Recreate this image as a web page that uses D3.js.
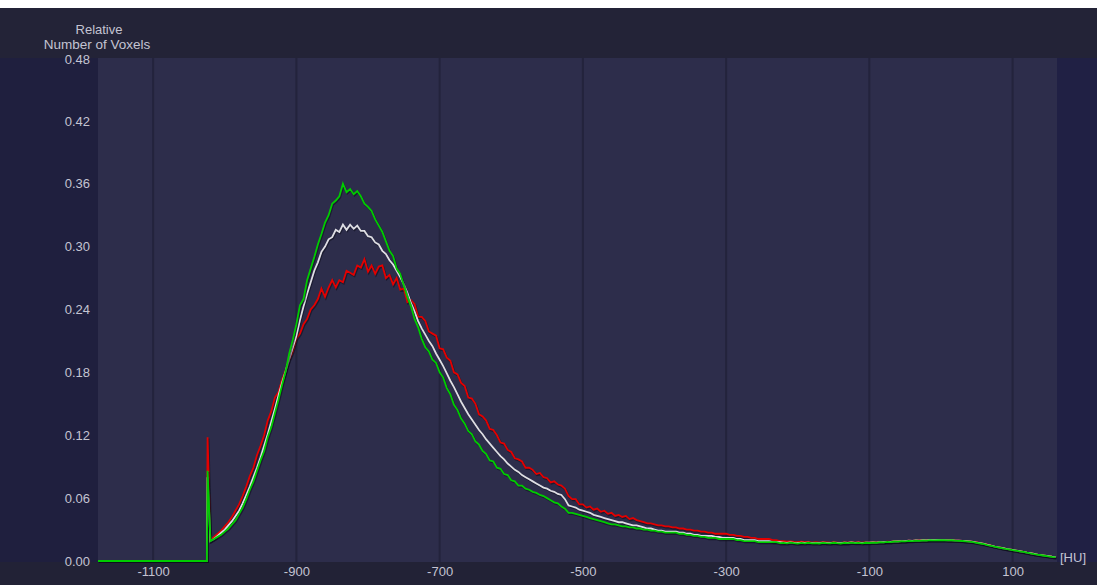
<!DOCTYPE html>
<html>
<head>
<meta charset="utf-8">
<script src="https://cdn.jsdelivr.net/npm/d3@7"></script>
<style>
  html, body { margin: 0; padding: 0; background: #ffffff; }
  svg { display: block; }
  text { font-family: "Liberation Sans", Arial, sans-serif; }
</style>
</head>
<body>
<svg id="chart" width="1097" height="585"></svg>
<script>
// Histogram bins in Hounsfield units: baseline before the air peak, the -1024 bin, then 5 HU bins
const huBins = [-1177, -1025, -1024].concat(d3.range(-1020, 161, 5));

const xTicks = [-1100, -900, -700, -500, -300, -100, 100];
const yTicks = [0, 0.06, 0.12, 0.18, 0.24, 0.30, 0.36, 0.42, 0.48];

// Relative voxel counts per bin
const redValues = [0, 0, 0.118,
  .020,.023,.026,.029,.033,.037,.042,.048,.054,.062,
  .071,.081,.089,.101,.110,.120,.134,.143,.156,.161,
  .173,.182,.192,.200,.212,.217,.226,.231,.240,.244,
  .250,.260,.252,.261,.268,.261,.268,.266,.277,.275,
  .273,.282,.280,.288,.276,.282,.274,.281,.282,.270,
  .273,.264,.270,.259,.260,.247,.249,.245,.233,.233,
  .229,.219,.217,.215,.203,.202,.194,.191,.180,.178,
  .170,.167,.156,.155,.150,.140,.138,.134,.126,.125,
  .120,.113,.112,.106,.104,.098,.097,.095,.089,.089,
  .087,.083,.084,.080,.079,.075,.076,.073,.072,.069,
  .062,.059,.059,.054,.054,.051,.052,.049,.050,.047,
  .048,.045,.046,.043,.044,.042,.043,.040,.041,.039,
  .038,.037,.036,.036,.035,.034,.034,.033,.033,.032,
  .032,.031,.031,.030,.030,.029,.029,.028,.028,.027,
  .027,.026,.026,.026,.026,.025,.025,.024,.024,.023,
  .023,.022,.022,.021,.021,.021,.021,.020,.020,.019,
  .0190,.0185,.0188,.0183,.0180,.0184,.0179,.0182,.0176,.0179,
  .0175,.0180,.0177,.0174,.0179,.0176,.0173,.0178,.0175,.0180,
  .0176,.0179,.0174,.0178,.0176,.0180,.0178,.0182,.0180,.0185,
  .0183,.0189,.0186,.0191,.0190,.0195,.0192,.0197,.0196,.0200,
  .0198,.0202,.0200,.0202,.0200,.0201,.0198,.0199,.0196,.0195,
  .0193,.0190,.0187,.0183,.0177,.0171,.0164,.0156,.0147,.0138,
  .0131,.0124,.0117,.0111,.0105,.0099,.0093,.0087,.0080,.0074,
  .0067,.0061,.0056,.0051,.0046,.0041,.0037];

const whiteValues = [0, 0, 0.080,
  .019,.021,.024,.027,.030,.034,.038,.043,.048,.055,
  .063,.071,.080,.089,.099,.110,.121,.133,.145,.158,
  .170,.181,.193,.204,.215,.230,.243,.255,.266,.277,
  .285,.295,.300,.307,.309,.316,.314,.321,.316,.321,
  .317,.320,.315,.315,.310,.309,.304,.302,.296,.293,
  .287,.283,.277,.271,.264,.256,.246,.238,.229,.222,
  .216,.210,.205,.198,.192,.186,.179,.172,.166,.159,
  .152,.146,.140,.135,.130,.125,.121,.116,.112,.108,
  .104,.100,.097,.093,.090,.087,.085,.082,.080,.078,
  .076,.074,.072,.070,.069,.067,.066,.064,.063,.059,
  .053,.052,.051,.049,.048,.047,.046,.044,.043,.042,
  .041,.040,.039,.038,.037,.037,.036,.035,.034,.034,
  .033,.032,.031,.031,.030,.029,.029,.028,.028,.028,
  .028,.027,.027,.026,.026,.025,.025,.024,.024,.024,
  .024,.023,.023,.022,.022,.022,.022,.021,.021,.020,
  .020,.020,.020,.019,.019,.019,.019,.018,.018,.018,
  .0176,.0172,.0178,.0173,.0170,.0175,.0172,.0176,.0171,.0173,
  .0170,.0175,.0172,.0170,.0176,.0172,.0170,.0174,.0172,.0177,
  .0173,.0175,.0171,.0176,.0174,.0178,.0176,.0180,.0179,.0183,
  .0182,.0187,.0186,.0190,.0189,.0193,.0192,.0196,.0195,.0198,
  .0196,.0201,.0199,.0201,.0199,.0200,.0197,.0198,.0195,.0194,
  .0192,.0189,.0186,.0182,.0176,.0170,.0163,.0155,.0146,.0138,
  .0131,.0124,.0117,.0111,.0105,.0099,.0093,.0087,.0080,.0074,
  .0067,.0061,.0056,.0051,.0046,.0041,.0037];

const greenValues = [0, 0, 0.086,
  .019,.021,.023,.025,.028,.031,.035,.039,.045,.051,
  .059,.068,.076,.086,.096,.105,.118,.128,.141,.154,
  .168,.181,.198,.211,.226,.244,.250,.268,.279,.290,
  .302,.312,.323,.330,.341,.344,.348,.360,.352,.355,
  .350,.353,.348,.341,.338,.334,.326,.320,.314,.305,
  .296,.291,.279,.274,.263,.252,.243,.231,.223,.212,
  .204,.200,.192,.189,.180,.175,.165,.159,.149,.144,
  .136,.131,.124,.121,.114,.111,.105,.102,.096,.095,
  .089,.088,.083,.082,.077,.076,.072,.072,.069,.068,
  .066,.065,.063,.062,.060,.058,.056,.055,.052,.050,
  .046,.046,.045,.044,.043,.042,.041,.040,.039,.038,
  .037,.036,.035,.035,.034,.033,.033,.032,.032,.031,
  .031,.030,.030,.029,.029,.028,.028,.027,.027,.027,
  .027,.026,.026,.025,.025,.024,.024,.023,.023,.022,
  .022,.022,.021,.021,.021,.021,.021,.020,.020,.019,
  .019,.019,.019,.018,.018,.018,.018,.018,.018,.017,
  .0172,.0168,.0175,.0170,.0166,.0172,.0169,.0174,.0168,.0171,
  .0167,.0173,.0170,.0168,.0174,.0170,.0167,.0172,.0170,.0175,
  .0171,.0173,.0169,.0174,.0172,.0176,.0174,.0179,.0177,.0182,
  .0180,.0186,.0184,.0189,.0187,.0192,.0190,.0195,.0193,.0197,
  .0195,.0200,.0197,.0200,.0198,.0199,.0196,.0198,.0194,.0193,
  .0191,.0188,.0185,.0180,.0174,.0167,.0160,.0152,.0145,.0137,
  .0130,.0123,.0116,.0110,.0104,.0098,.0092,.0086,.0079,.0073,
  .0066,.0060,.0055,.0050,.0045,.0040,.0036];

const seriesList = [
  { name: "red",   values: redValues,   color: "#e40000" },
  { name: "white", values: whiteValues, color: "#dedee4" },
  { name: "green", values: greenValues, color: "#00cc00" }
];

const W = 1097, H = 585;
const plot = { left: 98, right: 1057, top: 58, bottom: 562 };

const svg = d3.select("#chart");

// Panels
svg.append("rect").attr("x", 0).attr("y", 8).attr("width", W).attr("height", plot.top - 8).attr("fill", "#232337");
svg.append("rect").attr("x", 0).attr("y", plot.top).attr("width", plot.left).attr("height", plot.bottom - plot.top).attr("fill", "#1f1f3e");
svg.append("rect").attr("x", plot.right).attr("y", plot.top).attr("width", W - plot.right).attr("height", plot.bottom - plot.top).attr("fill", "#202044");
svg.append("rect").attr("x", plot.left).attr("y", plot.top).attr("width", plot.right - plot.left).attr("height", plot.bottom - plot.top).attr("fill", "#2d2d4b");
svg.append("rect").attr("x", 0).attr("y", plot.bottom).attr("width", W).attr("height", H - plot.bottom).attr("fill", "#222236");

const x = d3.scaleLinear().domain([-1177, 162]).range([plot.left, plot.right]);
const y = d3.scaleLinear().domain([0, 0.48]).range([plot.bottom - 1, plot.top]);

// Vertical grid lines
svg.append("g").selectAll("line").data(xTicks).join("line")
  .attr("x1", d => x(d)).attr("x2", d => x(d))
  .attr("y1", plot.top).attr("y2", plot.bottom)
  .attr("stroke", "#23233c").attr("stroke-width", 2);

// Axes
const textColor = "#c4c4d2";
const xAxis = svg.append("g").attr("transform", `translate(0,${plot.bottom})`)
  .call(d3.axisBottom(x).tickValues(xTicks).tickSize(0).tickPadding(5).tickFormat(d3.format("d")));
const yAxis = svg.append("g").attr("transform", `translate(${plot.left},0)`)
  .call(d3.axisLeft(y).tickValues(yTicks).tickSize(0).tickPadding(8).tickFormat(d3.format(".2f")));
[xAxis, yAxis].forEach(g => {
  g.select(".domain").remove();
  g.selectAll("text").attr("fill", textColor).style("font-size", "13px")
    .style("font-family", "'Liberation Sans', Arial, sans-serif");
});
xAxis.selectAll("text").text(d => d < 0 ? "-" + Math.abs(d) : String(d));
// keep the top tick label just inside the panel
yAxis.selectAll(".tick").filter(d => d === 0.48).select("text").attr("dy", "0.45em");

// Axis titles
svg.append("text").attr("x", plot.left + 1).attr("y", 34).attr("text-anchor", "middle")
  .attr("fill", textColor).style("font-size", "13px").text("Relative");
svg.append("text").attr("x", plot.left - 1).attr("y", 49).attr("text-anchor", "middle")
  .attr("fill", textColor).style("font-size", "13.5px").text("Number of Voxels");
svg.append("text").attr("x", plot.right + 3).attr("y", 562).attr("text-anchor", "start")
  .attr("fill", textColor).style("font-size", "13px").text("[HU]");

// Curves
svg.append("clipPath").attr("id", "plotClip").append("rect")
  .attr("x", plot.left).attr("y", plot.top).attr("width", plot.right - plot.left).attr("height", plot.bottom - plot.top + 1);

const line = d3.line().x((d, i) => x(huBins[i])).y(d => y(d));
const curves = svg.append("g").attr("clip-path", "url(#plotClip)");

seriesList.forEach(s => {
  curves.append("path").datum(s.values)
    .attr("d", line)
    .attr("transform", "translate(0.8,1.2)")
    .attr("fill", "none").attr("stroke", "#0c0c1c").attr("stroke-opacity", 0.55)
    .attr("stroke-width", 2);
  curves.append("path").datum(s.values)
    .attr("d", line)
    .attr("fill", "none").attr("stroke", s.color)
    .attr("stroke-width", 1.8).attr("stroke-linejoin", "miter");
});
</script>
</body>
</html>
